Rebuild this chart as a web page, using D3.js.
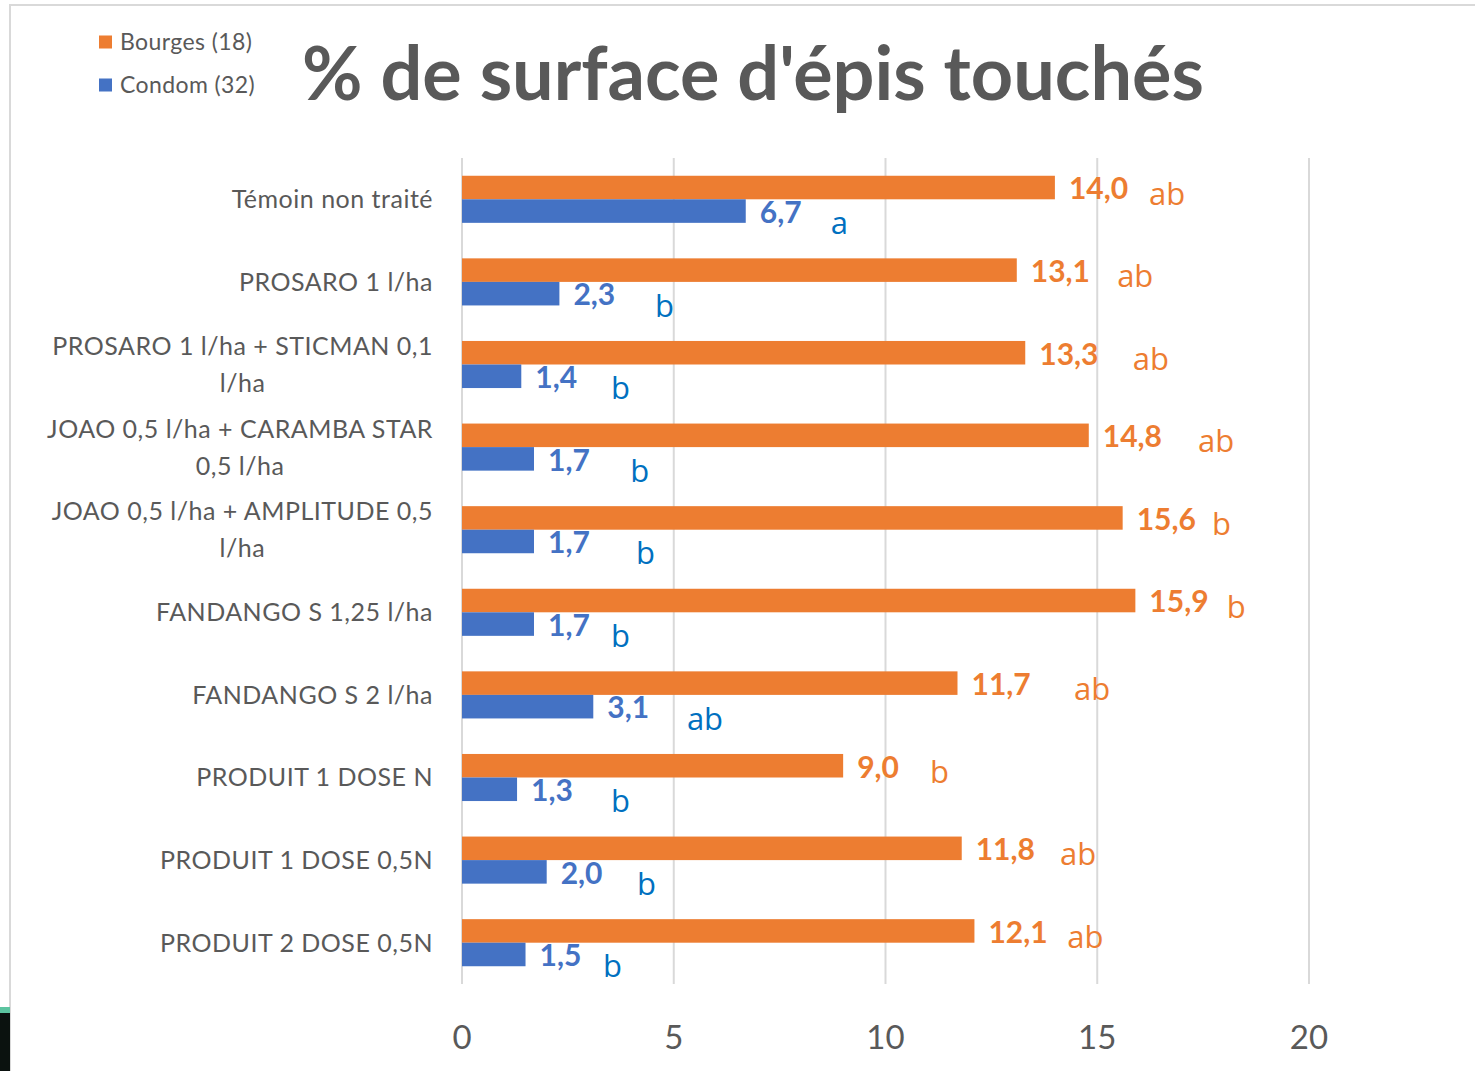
<!DOCTYPE html>
<html>
<head>
<meta charset="utf-8">
<script src="https://cdn.jsdelivr.net/npm/d3@7"></script>
<style>
  html, body { margin: 0; padding: 0; background: #fff; }
  svg { display: block; }
</style>
</head>
<body>
<svg id="chart"></svg>
<script>
const categories = [
  "Témoin non traité",
  "PROSARO 1 l/ha",
  "PROSARO 1 l/ha + STICMAN 0,1|l/ha",
  "JOAO 0,5 l/ha + CARAMBA STAR|0,5 l/ha",
  "JOAO 0,5 l/ha + AMPLITUDE 0,5|l/ha",
  "FANDANGO S 1,25 l/ha",
  "FANDANGO S 2 l/ha",
  "PRODUIT 1 DOSE N",
  "PRODUIT 1 DOSE 0,5N",
  "PRODUIT 2 DOSE 0,5N"
]
const series = ["Bourges (18)", "Condom (32)"]
const bourges = [14.0, 13.1, 13.3, 14.8, 15.6, 15.9, 11.7, 9.0, 11.8, 12.1]
const condom = [6.7, 2.3, 1.4, 1.7, 1.7, 1.7, 3.1, 1.3, 2.0, 1.5]
const bourgesLetters = ["ab", "ab", "ab", "ab", "b", "b", "ab", "b", "ab", "ab"]
const condomLetters = ["a", "b", "b", "b", "b", "b", "ab", "b", "b", "b"]
const xTicks = [0, 5, 10, 15, 20]

// where the significance letters were dropped by hand (in axis units)
const bourgesLetterAt = [16.22, 15.47, 15.84, 17.38, 17.71, 18.06, 14.45, 11.05, 14.12, 14.29]
const condomLetterAt = [8.71, 4.56, 3.52, 3.97, 4.11, 3.52, 5.31, 3.52, 4.13, 3.33]

const width = 1475
const height = 1071
const colors = ["#ED7D31", "#4472C4"]
const letterColors = ["#ED7D31", "#0070C0"]
const gray = "#595959"
const font = "Lato, 'Open Sans', sans-serif"

const svg = d3.select("#chart")
  .attr("width", width)
  .attr("height", height)
  .attr("font-family", font)

// frame
svg.append("rect").attr("x", 10).attr("y", 5).attr("width", width).attr("height", height)
  .attr("fill", "#fff").attr("stroke", "#d9d9d9").attr("stroke-width", 2)
svg.append("rect").attr("x", 0).attr("y", 1007).attr("width", 10).attr("height", 64).attr("fill", "#0b120f")
svg.append("rect").attr("x", 0).attr("y", 1007).attr("width", 10).attr("height", 6).attr("fill", "#5cc4a0")

const x = d3.scaleLinear().domain([0, 20]).range([462, 1309])
const y = d3.scaleBand().domain(categories).range([158, 984]).paddingInner(0.43).paddingOuter(0.215)
const y1 = d3.scaleBand().domain(series).range([0, y.bandwidth()])

// gridlines
svg.append("g")
  .attr("stroke", "#d9d9d9")
  .attr("stroke-width", 2)
  .selectAll("line")
  .data(xTicks)
  .join("line")
  .attr("x1", d => x(d)).attr("x2", d => x(d))
  .attr("y1", 158).attr("y2", 984)

svg.append("g")
  .attr("fill", gray)
  .attr("font-size", 33)
  .attr("text-anchor", "middle")
  .selectAll("text")
  .data(xTicks)
  .join("text")
  .attr("x", d => x(d))
  .attr("y", 1037)
  .attr("dy", "0.36em")
  .text(d => d)

const rows = categories.map((c, i) => ({
  cat: c,
  values: [bourges[i], condom[i]],
  letters: [bourgesLetters[i], condomLetters[i]],
  letterAt: [bourgesLetterAt[i], condomLetterAt[i]]
}))

const fmt = v => d3.format(".1f")(v).replace(".", ",")

const group = svg.append("g")
  .selectAll("g")
  .data(rows)
  .join("g")
  .attr("transform", d => `translate(0,${y(d.cat)})`)

series.forEach((s, k) => {
  group.append("rect")
    .attr("x", x(0))
    .attr("y", y1(s))
    .attr("width", d => x(d.values[k]) - x(0))
    .attr("height", y1.bandwidth())
    .attr("fill", colors[k])

  group.append("text")
    .attr("x", d => x(d.values[k]) + 14)
    .attr("y", y1(s) + y1.bandwidth() / 2 + 1)
    .attr("dy", "0.36em")
    .attr("font-size", 30)
    .attr("font-weight", "bold")
    .attr("fill", colors[k])
    .text(d => fmt(d.values[k]))

  group.append("text")
    .attr("x", d => x(d.letterAt[k]))
    .attr("y", y1(s) + y1.bandwidth() / 2 + (k === 0 ? 17 : 23))
    .attr("font-family", "'Open Sans', sans-serif")
    .attr("font-size", 31)
    .attr("fill", letterColors[k])
    .text(d => d.letters[k])
})

// category labels: block right-aligned, wrapped lines centred
const labelRight = 433
group.each(function (d) {
  const lines = d.cat.split("|")
  const g = d3.select(this)
  const t = g.append("text")
    .attr("fill", gray)
    .attr("font-size", 25)
    .attr("letter-spacing", 0.5)
    .attr("text-anchor", "middle")
  const lh = 37
  const top = y.bandwidth() / 2 - (lines.length - 1) * lh / 2
  const spans = lines.map((l, i) => t.append("tspan").attr("y", top + i * lh).attr("dy", "0.36em").text(l))
  const w = d3.max(spans, s => s.node().getComputedTextLength())
  spans.forEach(s => s.attr("x", labelRight - w / 2))
})

// title, fitted to its width in the picture
const title = svg.append("text")
  .attr("x", 302)
  .attr("y", 100)
  .attr("fill", gray)
  .attr("font-weight", "bold")
  .attr("font-size", 70)
  .text("% de surface d'épis touchés")
const tw = title.node().getComputedTextLength()
title.attr("font-size", 70 * 902 / tw)

// legend
const legend = svg.append("g")
  .selectAll("g")
  .data(series)
  .join("g")
  .attr("transform", (d, i) => `translate(99,${42 + i * 43})`)

legend.append("rect")
  .attr("y", -6.5).attr("width", 13).attr("height", 13)
  .attr("fill", (d, i) => colors[i])

legend.append("text")
  .attr("x", 21)
  .attr("dy", "0.36em")
  .attr("font-size", 23)
  .attr("letter-spacing", 0.4)
  .attr("fill", gray)
  .text(d => d)
</script>
</body>
</html>
